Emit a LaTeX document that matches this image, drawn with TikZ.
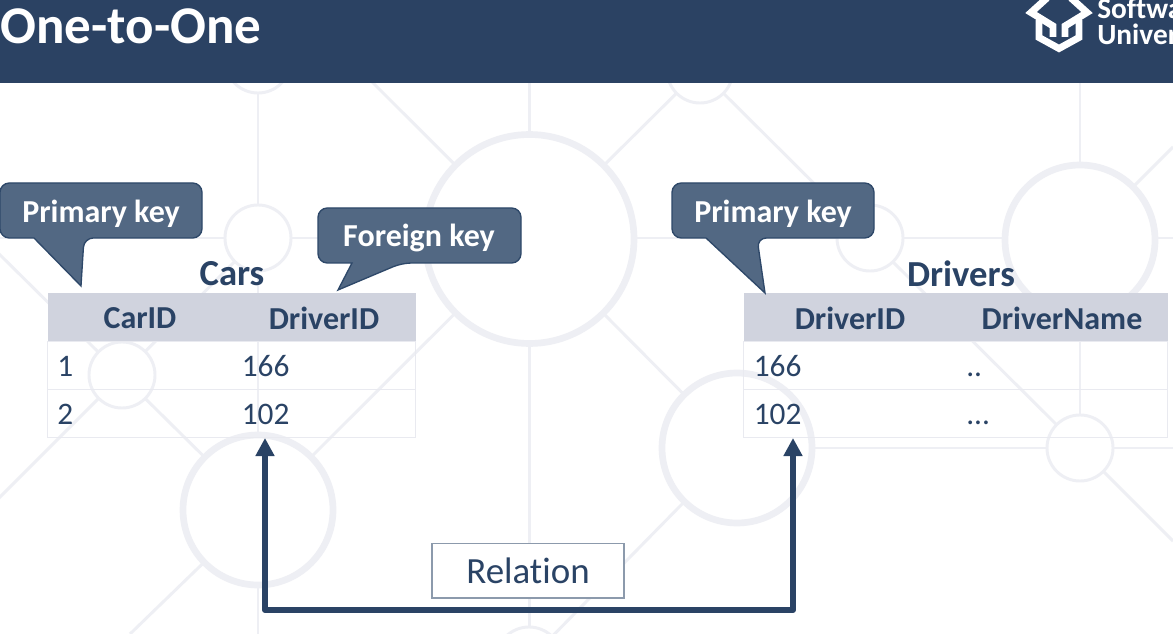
\documentclass[tikz,border=0pt]{standalone}
\usepackage{fontspec}
\setmainfont[Ligatures=NoCommon]{Carlito}
\usetikzlibrary{arrows.meta}
\definecolor{hdr}{HTML}{2B4263}
\definecolor{ink}{HTML}{2A4365}
\definecolor{bgl}{HTML}{EEEFF4}
\definecolor{thead}{HTML}{D0D3DE}
\definecolor{grid}{HTML}{E9EAF0}
\definecolor{call}{HTML}{526883}
\definecolor{callb}{HTML}{2E4869}
\definecolor{relb}{HTML}{8C9AAC}
\tikzset{
 bgline/.style={draw=bgl,line width=2.2pt},
 bigcirc/.style={draw=bgl,fill=white,line width=5pt},
 smallcirc/.style={draw=bgl,fill=white,line width=2.2pt},
 callout/.style={draw=callb,fill=call,line width=1pt,rounded corners=7pt},
 calltext/.style={text=white,font=\fontsize{24}{24}\selectfont\bfseries,inner sep=0pt},
 headtext/.style={text=ink,font=\fontsize{24}{24}\selectfont\bfseries,inner sep=0pt},
 celltext/.style={text=ink,font=\fontsize{23.5}{24}\selectfont,inner sep=0pt,anchor=base west},
 titletext/.style={text=ink,font=\fontsize{27.5}{28}\selectfont\bfseries,inner sep=0pt},
 logotext/.style={anchor=west,text=white,font=\fontsize{22}{22}\selectfont\bfseries,inner sep=0pt},
 logoline/.style={draw=white,line width=5.2pt,line join=miter},
 rel/.style={draw=ink,line width=4.6pt,line join=round,{Triangle[length=13.5pt,width=13.5pt]}-{Triangle[length=13.5pt,width=13.5pt]}},
}
\begin{document}
\begin{tikzpicture}[x=0.75pt,y=-0.75pt]
\useasboundingbox (0,0) rectangle (1173,634);
\fill[white] (0,0) rectangle (1173,634);
\begin{scope}
\clip (0,0) rectangle (1173,634);
% background lines
\draw[bgline] (258,60) -- (258,634);
\draw[bgline] (529.5,83) -- (529.5,634);
\draw[bgline] (1080,83) -- (1080,448);
\draw[bgline] (0,238) -- (1173,238);
\draw[bgline] (737,448) -- (1173,448);
\draw[bgline] (-10,245) -- (258,510);
\draw[bgline] (-10,507) -- (122,375) -- (258,238);
\draw[bgline] (340,50) -- (529.5,239) -- (737,448);
\draw[bgline] (529.5,239) -- (700,70);
\draw[bgline] (700,70) -- (1080,448);
\draw[bgline] (529.5,239) -- (258,510) -- (130,634);
\draw[bgline] (737,448) -- (529,660);
\draw[bgline] (1080,240) -- (1173,147);
\draw[bgline] (1080,448) -- (1173,541);
% background circles
\draw[bigcirc] (529.5,239) circle (104.5);
\draw[bigcirc] (258,510) circle (75);
\draw[bigcirc] (737,448) circle (75);
\draw[bigcirc] (1080,240) circle (75);
\draw[smallcirc] (258,238) circle (33);
\draw[smallcirc] (122,375) circle (33);
\draw[smallcirc] (870,238) circle (33);
\draw[smallcirc] (1080,448) circle (33);
\draw[smallcirc] (529,660) circle (33);
\draw[smallcirc] (258,60) circle (33);
\draw[smallcirc] (700,70) circle (33);
% header
\fill[hdr] (0,0) rectangle (1173,83);
\draw[logoline] (1047,-2) -- (1031,12.5) -- (1053,26) -- (1053,37);
\draw[logoline] (1071,-2) -- (1087,12.5) -- (1065,26) -- (1065,37);
\draw[logoline] (1039,20) -- (1039,37.5) -- (1059,48.5) -- (1079,37.5) -- (1079,20);
\end{scope}
\node[anchor=west,text=white,font=\fontsize{39.8}{40}\selectfont\bfseries,inner sep=0pt] (title) at (0,26) {One-to-One};
\begin{scope}
\clip (0,0) rectangle (1173,83);
\node[logotext] (soft) at (1097,8) {Softwa};
\node[logotext] (univ) at (1097,34) {Univer};
\end{scope}
% tables
\fill[thead] (47.5,293.5) rectangle (415.5,341.5);
\fill[thead] (743.5,293.5) rectangle (1167.5,341.5);
\draw[grid,line width=0.75pt] (47.5,341.5) rectangle (415.5,437.5) (47.5,389.5) -- (415.5,389.5);
\draw[grid,line width=0.75pt] (743.5,341.5) rectangle (1167.5,437.5) (743.5,389.5) -- (1167.5,389.5);
\node[titletext] (cars) at (232,274) {Cars};
\node[titletext] (drivers) at (961,273.5) {Drivers};
\node[headtext] (h1) at (140,318) {CarID};
\node[headtext] (h2) at (324,318) {DriverID};
\node[headtext] (h3) at (850,318) {DriverID};
\node[headtext] (h4) at (1062,318) {DriverName};
\node[celltext] (c11) at (57,376) {1};
\node[celltext] (c12) at (241.5,376) {166};
\node[celltext] (c21) at (57,424) {2};
\node[celltext] (c22) at (241.5,424) {102};
\node[celltext] (d11) at (753.5,376) {166};
\node[celltext] (d12) at (966,376) {..};
\node[celltext] (d21) at (753.5,424) {102};
\node[celltext] (d22) at (966,424) {...};
% callouts
\path[callout] (0,183) -- (202,183) -- (202,238) -- (84,238) [sharp corners] -- (81,286) -- (34,238) [rounded corners=7pt] -- (0,238) -- cycle;
\node[calltext] (pk1) at (101,214) {Primary key};
\path[callout] (318,208) -- (521,208) -- (521,263) -- (402,263) [sharp corners] -- (338,290) -- (352,263) [rounded corners=7pt] -- (318,263) -- cycle;
\node[calltext] (fk) at (419,238) {Foreign key};
\path[callout] (672,183) -- (874,183) -- (874,238) -- (757,238) [sharp corners] -- (765,293) -- (706,238) [rounded corners=7pt] -- (672,238) -- cycle;
\node[calltext] (pk2) at (773,214) {Primary key};
% relation
\coordinate (ra) at (265,438);
\coordinate (rb) at (793,438);
\coordinate (rlow) at (529,610);
\draw[rel] (ra) |- (rlow) -| (rb);
\node[draw=relb,line width=1pt,fill=white,text=ink,minimum width=144pt,minimum height=41pt,inner sep=0pt,font=\fontsize{27.7}{28}\selectfont] (relation) at (528,570.5) {Relation};
\end{tikzpicture}
\end{document}
